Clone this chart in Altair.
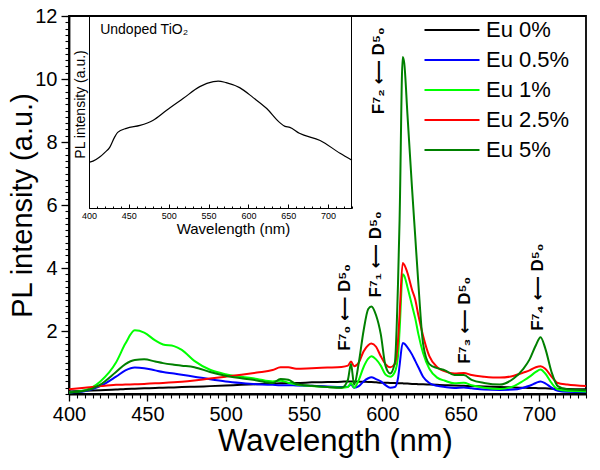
import altair as alt
import pandas as pd

FONT = "Liberation Sans, Arial, DejaVu Sans"

WAVELENGTH = [400, 410, 420, 430, 436, 442, 448, 455, 460, 467,
              472, 480, 490, 500, 510, 520, 530, 535, 540, 545,
              555, 565, 574, 578, 580, 582, 585, 588, 591, 593,
              596, 599, 602, 605, 608, 610, 611, 613, 614, 616,
              619, 621, 623, 626, 630, 635, 640, 646, 652, 657,
              665, 675, 684, 690, 694, 698, 701, 704, 708, 712,
              718, 730]

EU_0 = [0.08, 0.10, 0.12, 0.14, 0.16, 0.17, 0.18, 0.19, 0.20, 0.21,
        0.22, 0.23, 0.25, 0.27, 0.29, 0.31, 0.33, 0.34, 0.35, 0.35,
        0.37, 0.38, 0.39, 0.40, 0.40, 0.40, 0.39, 0.39, 0.38, 0.38,
        0.37, 0.36, 0.36, 0.35, 0.35, 0.34, 0.34, 0.34, 0.33, 0.33,
        0.32, 0.32, 0.31, 0.31, 0.30, 0.29, 0.28, 0.27, 0.26, 0.25,
        0.24, 0.22, 0.21, 0.20, 0.19, 0.19, 0.18, 0.18, 0.17, 0.17,
        0.16, 0.15]

EU_05 = [0.05, 0.09, 0.25, 0.55, 0.75, 0.84, 0.82, 0.75, 0.70, 0.65,
         0.61, 0.55, 0.47, 0.40, 0.35, 0.31, 0.29, 0.28, 0.28, 0.27,
         0.26, 0.24, 0.22, 0.23, 0.30, 0.20, 0.25, 0.40, 0.50, 0.53,
         0.47, 0.40, 0.28, 0.20, 0.22, 0.50, 0.90, 1.62, 1.60, 1.48,
         1.25, 1.05, 0.85, 0.55, 0.35, 0.26, 0.22, 0.19, 0.21, 0.18,
         0.14, 0.13, 0.14, 0.20, 0.26, 0.35, 0.40, 0.34, 0.20, 0.10,
         0.07, 0.06]

EU_1 = [0.05, 0.12, 0.40, 1.00, 1.60, 2.02, 1.95, 1.70, 1.57, 1.52,
        1.40, 1.05, 0.77, 0.63, 0.55, 0.48, 0.40, 0.42, 0.36, 0.30,
        0.25, 0.22, 0.20, 0.22, 0.35, 0.20, 0.45, 0.85, 1.12, 1.20,
        1.10, 0.90, 0.62, 0.55, 0.70, 1.20, 2.00, 3.80, 3.75, 3.40,
        2.80, 2.40, 1.90, 1.30, 0.80, 0.52, 0.42, 0.34, 0.36, 0.28,
        0.20, 0.16, 0.25, 0.42, 0.55, 0.70, 0.78, 0.65, 0.35, 0.15,
        0.10, 0.08]

EU_25 = [0.15, 0.20, 0.25, 0.29, 0.30, 0.31, 0.32, 0.34, 0.35, 0.37,
         0.39, 0.43, 0.49, 0.55, 0.61, 0.68, 0.76, 0.85, 0.85, 0.80,
         0.82, 0.84, 0.86, 0.90, 1.03, 0.88, 1.00, 1.35, 1.55, 1.60,
         1.50, 1.20, 0.95, 0.85, 0.95, 1.70, 2.50, 4.16, 4.10, 3.85,
         3.30, 3.00, 2.50, 1.85, 1.20, 0.85, 0.72, 0.65, 0.67, 0.60,
         0.55, 0.52, 0.58, 0.68, 0.75, 0.85, 0.88, 0.80, 0.55, 0.35,
         0.30, 0.25]

EU_5 = [0.05, 0.10, 0.30, 0.70, 0.95, 1.08, 1.10, 1.03, 0.98, 0.93,
        0.90, 0.85, 0.70, 0.58, 0.50, 0.43, 0.35, 0.48, 0.45, 0.32,
        0.26, 0.22, 0.20, 0.45, 0.95, 0.30, 1.00, 2.00, 2.70, 2.78,
        2.50, 1.90, 0.90, 0.65, 1.00, 3.50, 5.50, 10.70, 10.50, 8.90,
        6.50, 5.00, 3.50, 1.60, 0.95, 0.82, 0.75, 0.60, 0.60, 0.45,
        0.35, 0.30, 0.50, 0.80, 1.10, 1.55, 1.80, 1.45, 0.70, 0.25,
        0.15, 0.12]

SERIES = ["Eu 0%", "Eu 0.5%", "Eu 1%", "Eu 2.5%", "Eu 5%"]
COLORS = ["#000000", "#0000ff", "#00ff00", "#ff0000", "#008000"]

INSET_WL = [400, 405, 413, 420, 426, 432, 436, 447, 464, 480, 497, 518, 539,
            556, 562, 572, 589, 606, 623, 639, 646, 652, 664, 690, 715, 730]
INSET_PL = [2.38, 2.44, 2.64, 2.90, 3.16, 3.68, 3.94, 4.15, 4.30, 4.56, 5.08, 5.70, 6.32,
            6.58, 6.61, 6.53, 6.27, 5.75, 5.18, 4.46, 4.25, 4.20, 3.89, 3.52, 2.85, 2.49]

ANN_LABELS = ["F\u2077\u2080 \u27f5 D\u2075\u2080", "F\u2077\u2081 \u27f5 D\u2075\u2080",
              "F\u2077\u2082 \u27f5 D\u2075\u2080", "F\u2077\u2083 \u27f5 D\u2075\u2080",
              "F\u2077\u2084 \u27f5 D\u2075\u2080"]
ANN_X = [576.1, 595.9, 597.8, 652.7, 699.3]
ANN_Y = [2.75, 4.43, 10.26, 2.34, 3.39]

INSET_TITLE = ["Undoped TiO\u2082"]
INSET_TITLE_X = [414]
INSET_TITLE_Y = [9.07]

X_MAJOR = [400, 450, 500, 550, 600, 650, 700]
X_MINOR = list(range(400, 731, 5))
Y_MAJOR = [2, 4, 6, 8, 10, 12]
Y_MINOR = [round(0.2 * i, 1) for i in range(61)]
INSET_X_MINOR = list(range(400, 731, 10))

rows = []
for name, vals in zip(SERIES, [EU_0, EU_05, EU_1, EU_25, EU_5]):
    for w, v in zip(WAVELENGTH, vals):
        rows.append({"wavelength": w, "intensity": v, "series": name})
df = pd.DataFrame(rows)

ann_df = pd.DataFrame({"x": ANN_X, "y": ANN_Y, "label": ANN_LABELS})
inset_df = pd.DataFrame({"wavelength": INSET_WL, "intensity": INSET_PL})
inset_title_df = pd.DataFrame({"x": INSET_TITLE_X, "y": INSET_TITLE_Y, "label": INSET_TITLE})

xs = alt.Scale(domain=[400, 730], nice=False, zero=False)
ys = alt.Scale(domain=[0, 12], nice=False, zero=False)

lines = alt.Chart(df).mark_line(strokeWidth=2, interpolate="monotone", clip=True).encode(
    x=alt.X("wavelength:Q", scale=xs, axis=alt.Axis(
        orient="bottom", values=X_MAJOR, tickSize=7, tickWidth=1.3, domainWidth=1.8,
        labelFontSize=20, labelPadding=3, labelFont=FONT, labelFlush=False,
        title="Wavelength (nm)", titleFontSize=31, titleFont=FONT, titleFontWeight="normal",
        titlePadding=2, titleX=266, grid=False)),
    y=alt.Y("intensity:Q", scale=ys, axis=alt.Axis(
        orient="left", values=Y_MAJOR, tickSize=8, tickWidth=1.3, domainWidth=1.8,
        labelFontSize=20, labelPadding=4, labelFont=FONT, labelFlush=False,
        title="PL intensity (a.u.)", titleFontSize=29, titleFont=FONT,
        titleFontWeight="normal", titleX=-32, grid=False)),
    color=alt.Color("series:N", scale=alt.Scale(domain=SERIES, range=COLORS), legend=alt.Legend(
        orient="none", legendX=371, legendY=2, title=None, symbolType="M-2.5,0H2.5",
        symbolSize=484, symbolStrokeWidth=2, labelFontSize=22, labelFont=FONT,
        labelOffset=22, rowPadding=7, padding=0, labelColor="black")),
)

ann = alt.Chart(ann_df).mark_text(angle=270, fontSize=17, fontWeight="bold", font=FONT,
                                   align="center", baseline="middle", color="black").encode(
    x=alt.X("x:Q", scale=xs, axis=alt.Axis(orient="bottom", values=X_MINOR, tickSize=4,
                                           tickWidth=1.1, labels=False, domain=False,
                                           title=None, grid=False)),
    y=alt.Y("y:Q", scale=ys, axis=alt.Axis(orient="left", values=Y_MINOR, tickSize=4,
                                           tickWidth=1.1, labels=False, domain=False,
                                           title=None, grid=False)),
    text="label:N",
)

main = alt.layer(lines, ann).resolve_axis(x="independent", y="independent")

ixs = alt.Scale(domain=[400, 730], range=[20, 283], nice=False, zero=False)
iys = alt.Scale(domain=[0, 10], range=[192, 0], nice=False, zero=False)

inset_line = alt.Chart(inset_df).mark_line(color="black", strokeWidth=1.2, interpolate="monotone").encode(
    x=alt.X("wavelength:Q", scale=ixs, axis=alt.Axis(
        orient="bottom", offset=-186, values=X_MAJOR, ticks=False, domainWidth=1,
        labelFontSize=9, labelPadding=3, labelFont=FONT, labelFlush=False,
        title="Wavelength (nm)", titleFontSize=15, titleFont=FONT, titleFontWeight="normal",
        titlePadding=1, titleX=164, grid=False)),
    y=alt.Y("intensity:Q", scale=iys, axis=alt.Axis(
        orient="left", offset=-20, labels=False, ticks=False, domainWidth=1,
        title="PL intensity (a.u.)", titleFontSize=14, titleFont=FONT,
        titleFontWeight="normal", titlePadding=2, titleY=88, grid=False)),
)

inset_text = alt.Chart(inset_title_df).mark_text(fontSize=14, font=FONT, align="left",
                                                  baseline="alphabetic", color="black").encode(
    x=alt.X("x:Q", scale=ixs, axis=alt.Axis(orient="top", offset=-192, values=X_MAJOR,
                                            tickSize=4, labels=False, domain=False,
                                            title=None, grid=False)),
    y=alt.Y("y:Q", scale=iys, axis=alt.Axis(orient="right", offset=-235, labels=False,
                                            ticks=False, domainWidth=1, title=None, grid=False)),
    text="label:N",
)

inset_minor = alt.Chart(inset_title_df).mark_point(opacity=0).encode(
    x=alt.X("x:Q", scale=ixs, axis=alt.Axis(orient="top", offset=-192, values=INSET_X_MINOR,
                                            tickSize=2, labels=False, domain=False,
                                            title=None, grid=False)),
    y=alt.Y("y:Q", scale=iys, axis=None),
)

inset = alt.layer(inset_line, inset_text, inset_minor).resolve_axis(x="independent", y="independent")

chart = alt.layer(main, inset).resolve_scale(x="independent", y="independent").properties(
    width=517, height=378,
    autosize=alt.AutoSizeParams(type="none"),
    padding={"left": 61, "top": 8, "right": 6, "bottom": 66},
).configure_view(stroke="black", strokeWidth=1.8).configure_axis(
    domainColor="black", tickColor="black", labelColor="black", titleColor="black"
)

chart.save("out.html", embed_options={"renderer": "svg", "actions": False})
